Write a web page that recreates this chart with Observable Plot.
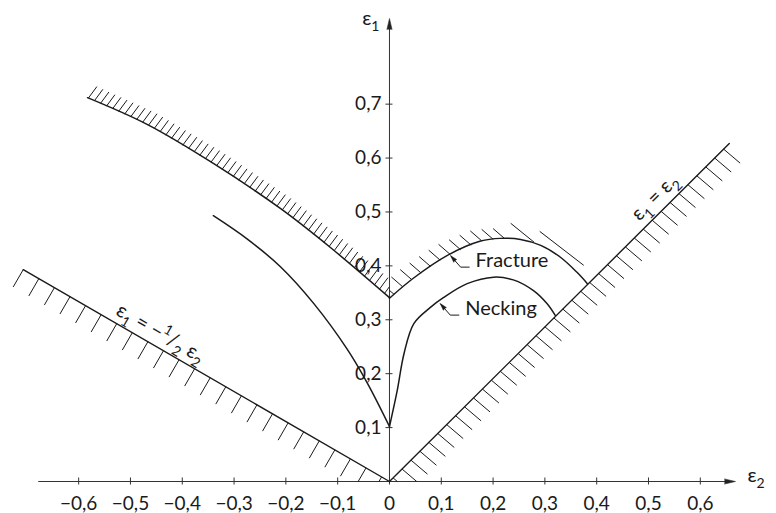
<!DOCTYPE html>
<html>
<head>
<meta charset="utf-8">
<script src="https://cdn.jsdelivr.net/npm/d3@7"></script>
<script src="https://cdn.jsdelivr.net/npm/@observablehq/plot@0.6"></script>
<style>
  html, body { margin: 0; padding: 0; background: #fff; }
  #chart { width: 776px; height: 513px; }
</style>
</head>
<body>
<div id="chart"></div>
<script>
// ---------- data (ε2, ε1) ----------
const xTicks = [-0.6, -0.5, -0.4, -0.3, -0.2, -0.1, 0, 0.1, 0.2, 0.3, 0.4, 0.5, 0.6];
const yTicks = [0.1, 0.2, 0.3, 0.4, 0.5, 0.6, 0.7];

const lineEqual = [[0.656, 0.627], [0, 0]];          // ε1 = ε2
const lineHalf = [[-0.707, 0.393], [0, 0]];          // ε1 = −1/2 ε2

const fractureLeft = [[-0.583, 0.712], [-0.467, 0.662], [-0.340, 0.590], [-0.210, 0.506], [-0.114, 0.434], [0, 0.341]];
const fractureRight = [[0, 0.340], [0.046, 0.377], [0.111, 0.419], [0.176, 0.446], [0.214, 0.451], [0.253, 0.449], [0.292, 0.438], [0.330, 0.416], [0.362, 0.388], [0.382, 0.367]];
const fractureBand = [
  [[0.234, 0.479], [0.279, 0.444]],
  [[0.290, 0.464], [0.375, 0.401]]
];
const neckingLeft = [[-0.340, 0.493], [-0.275, 0.450], [-0.210, 0.398], [-0.146, 0.330], [-0.082, 0.246], [-0.043, 0.183], [0, 0.102]];
const neckingRight = [[0, 0.102], [0.015, 0.169], [0.028, 0.237], [0.047, 0.293], [0.079, 0.323], [0.104, 0.341], [0.150, 0.367], [0.201, 0.379], [0.239, 0.374], [0.278, 0.354], [0.304, 0.330], [0.320, 0.308]];

const curveLabels = [
  {label: "Fracture", e2: 0.118, e1: 0.419},
  {label: "Necking", e2: 0.098, e1: 0.330}
];
const lineLabels = [
  {label: "ε_1 = −^1/_2 ε_2", e2: -0.442, e1: 0.275, angle: 30},
  {label: "ε_1 = ε_2", e2: 0.512, e1: 0.527, angle: -44.8}
];
const axisLabels = [
  {label: "ε_2", e2: 0.668, e1: 0},
  {label: "ε_1", e2: 0, e1: 0.859}
];

// ---------- layout ----------
const W = 776, H = 513, ML = 16, MR = 24.4, MT = 12, MB = 32;
const xDom = [-0.72, 0.7], yDom = [0, 0.87];
const kx = (W - ML - MR) / (xDom[1] - xDom[0]);
const ky = (H - MT - MB) / (yDom[1] - yDom[0]);
const toPx = ([a, b]) => [ML + (a - xDom[0]) * kx, H - MB - (b - yDom[0]) * ky];
const toData = ([X, Y]) => [xDom[0] + (X - ML) / kx, yDom[0] + (H - MB - Y) / ky];
const X0 = toPx([0, 0])[0], Y0 = toPx([0, 0])[1];

function hatch(points, {spacing, vec, offset = 0, maxX = Infinity, clip}) {
  const P = points.map(toPx);
  const out = [];
  let next = offset;
  for (let i = 0; i < P.length - 1; i++) {
    const [ax, ay] = P[i], [bx, by] = P[i + 1];
    const L = Math.hypot(bx - ax, by - ay);
    while (next <= L) {
      const t = next / L;
      const sx = ax + (bx - ax) * t, sy = ay + (by - ay) * t;
      if (sx <= maxX) {
        let f = 1;
        const ex0 = sx + vec[0], ey0 = sy + vec[1];
        if (clip === "y0" && ey0 > Y0) f = (Y0 - sy) / (ey0 - sy);
        if (clip === "xleft" && ex0 > X0) f = (X0 - sx) / (ex0 - sx);
        if (clip === "xright" && ex0 < X0) f = (X0 - sx) / (ex0 - sx);
        f = Math.max(0, Math.min(1, f));
        const ex = sx + vec[0] * f, ey = sy + vec[1] * f;
        if (f > 0.02) {
          const a = toData([sx, sy]), b = toData([ex, ey]);
          out.push({x1: a[0], y1: a[1], x2: b[0], y2: b[1]});
        }
      }
      next += spacing;
    }
    next -= L;
  }
  return out;
}

const hatchEqual = hatch(lineEqual, {spacing: 12.6, vec: [16.5, 14], offset: 8, clip: "y0"});
const hatchHalf = hatch(lineHalf, {spacing: 18, vec: [-10, 17.3], offset: 0, clip: "y0"});
const hatchFL = hatch(fractureLeft, {spacing: 6.6, vec: [8.5, -11.5], offset: 1, clip: "xleft"});
const hatchFR = hatch(fractureRight, {spacing: 11.5, vec: [-11.5, -10], offset: 6, maxX: 512, clip: "xright"});
const bandLinks = fractureBand.map(([a, b]) => ({x1: a[0], y1: a[1], x2: b[0], y2: b[1]}));

// leaders for curve labels
const leaders = curveLabels.map(d => {
  const [tx, ty] = toPx([d.e2, d.e1]);
  const bend = toData([tx + 10, ty + 11.5]);
  const end = toData([tx + 19, ty + 11.5]);
  return {...d, bx: bend[0], by: bend[1], ex: end[0], ey: end[1]};
});

const fmt = v => v === 0 ? "0" : v.toFixed(1).replace(".", ",").replace("-", "−");
const ink = "#1a1a1a";
const font = "Lato, 'DejaVu Sans', sans-serif";

const chart = Plot.plot({
  width: W, height: H,
  marginLeft: ML, marginRight: MR, marginTop: MT, marginBottom: MB,
  x: {domain: xDom, axis: null},
  y: {domain: yDom, axis: null},
  style: {fontFamily: font, background: "#fff", color: ink, overflow: "visible"},
  marks: [
    // axes
    Plot.link([{x1: -0.678, x2: 0.65, y: 0}], {x1: "x1", x2: "x2", y1: "y", y2: "y", stroke: "#333", strokeWidth: 1}),
    Plot.link([{x: 0, y1: 0, y2: 0.84}], {x1: "x", x2: "x", y1: "y1", y2: "y2", stroke: "#333", strokeWidth: 1}),
    Plot.vector([{x: 0.668, y: 0}], {x: "x", y: "y", length: 11, rotate: 90, shape: "spike", r: 2.6, anchor: "end", fill: "#222", stroke: "#222", strokeWidth: 0.5}),
    Plot.vector([{x: 0, y: 0.859}], {x: "x", y: "y", length: 11, rotate: 0, shape: "spike", r: 2.6, anchor: "end", fill: "#222", stroke: "#222", strokeWidth: 0.5}),
    Plot.ruleX(xTicks, {x: d => d, y1: 0, y2: 0, insetTop: -3.5, insetBottom: -3.5, stroke: "#333", strokeWidth: 1}),
    Plot.ruleY(yTicks, {y: d => d, x1: 0, x2: 0, insetLeft: -3.5, insetRight: -3.5, stroke: "#333", strokeWidth: 1}),
    Plot.text(xTicks, {x: d => d, y: 0, text: fmt, dy: 22, fontSize: 19, fill: ink}),
    Plot.text(yTicks, {x: 0, y: d => d, text: fmt, dx: -8, textAnchor: "end", fontSize: 19, fill: ink}),
    Plot.text([axisLabels[0]], {x: "e2", y: "e1", text: "label", dx: 12, dy: -6, textAnchor: "start", fontSize: 20, fill: ink}),
    Plot.text([axisLabels[1]], {x: "e2", y: "e1", text: "label", dx: -10, dy: 0, textAnchor: "end", fontSize: 20, fill: ink}),

    // hatching
    Plot.link([...hatchEqual, ...hatchHalf, ...hatchFL, ...hatchFR, ...bandLinks], {x1: "x1", y1: "y1", x2: "x2", y2: "y2", stroke: ink, strokeWidth: 1}),

    // limit lines
    Plot.line(lineEqual, {x: d => d[0], y: d => d[1], stroke: ink, strokeWidth: 1.4}),
    Plot.line(lineHalf, {x: d => d[0], y: d => d[1], stroke: ink, strokeWidth: 1.4}),

    // curves
    Plot.line(fractureLeft, {x: d => d[0], y: d => d[1], curve: "catmull-rom", stroke: ink, strokeWidth: 1.5}),
    Plot.line(fractureRight, {x: d => d[0], y: d => d[1], curve: "catmull-rom", stroke: ink, strokeWidth: 1.5}),
    Plot.line(neckingLeft, {x: d => d[0], y: d => d[1], curve: "catmull-rom", stroke: ink, strokeWidth: 1.5}),
    Plot.line(neckingRight, {x: d => d[0], y: d => d[1], curve: "catmull-rom", stroke: ink, strokeWidth: 1.5}),

    // leaders + labels
    Plot.link(leaders, {x1: "bx", y1: "by", x2: "ex", y2: "ey", stroke: ink, strokeWidth: 1}),
    Plot.link(leaders, {x1: "e2", y1: "e1", x2: "bx", y2: "by", stroke: ink, strokeWidth: 1}),
    Plot.vector(leaders, {x: "e2", y: "e1", length: 7, rotate: -41, shape: "spike", r: 2, anchor: "end", fill: ink, stroke: ink, strokeWidth: 0.5}),
    Plot.text(leaders, {x: "ex", y: "ey", text: "label", dx: 6, dy: -7, textAnchor: "start", fontSize: 20, fill: ink}),

    // line equations
    Plot.text(lineLabels, {x: "e2", y: "e1", text: "label", rotate: "angle", fontSize: 20, fill: ink})
  ]
});

// sub/superscript post-processing: "_c" subscript, "^c" superscript
function richify(el, fs) {
  const s = el.textContent;
  el.textContent = "";
  const ns = "http://www.w3.org/2000/svg";
  let base = 0, buf = "";
  const flush = () => {
    if (!buf) return;
    const t = document.createElementNS(ns, "tspan");
    if (base !== 0) t.setAttribute("dy", (-base).toFixed(2));
    base = 0;
    t.textContent = buf;
    el.appendChild(t);
    buf = "";
  };
  for (let i = 0; i < s.length; i++) {
    const c = s[i];
    if ((c === "_" || c === "^") && i + 1 < s.length) {
      flush();
      const off = c === "_" ? 0.3 * fs : -0.42 * fs;
      const t = document.createElementNS(ns, "tspan");
      t.setAttribute("dy", (off - base).toFixed(2));
      t.setAttribute("font-size", (0.7 * fs).toFixed(1));
      base = off;
      t.textContent = s[++i];
      el.appendChild(t);
    } else buf += c;
  }
  flush();
}
chart.querySelectorAll("text").forEach(el => { if (/[_^]/.test(el.textContent)) richify(el, 20); });

document.getElementById("chart").appendChild(chart);
</script>
</body>
</html>
